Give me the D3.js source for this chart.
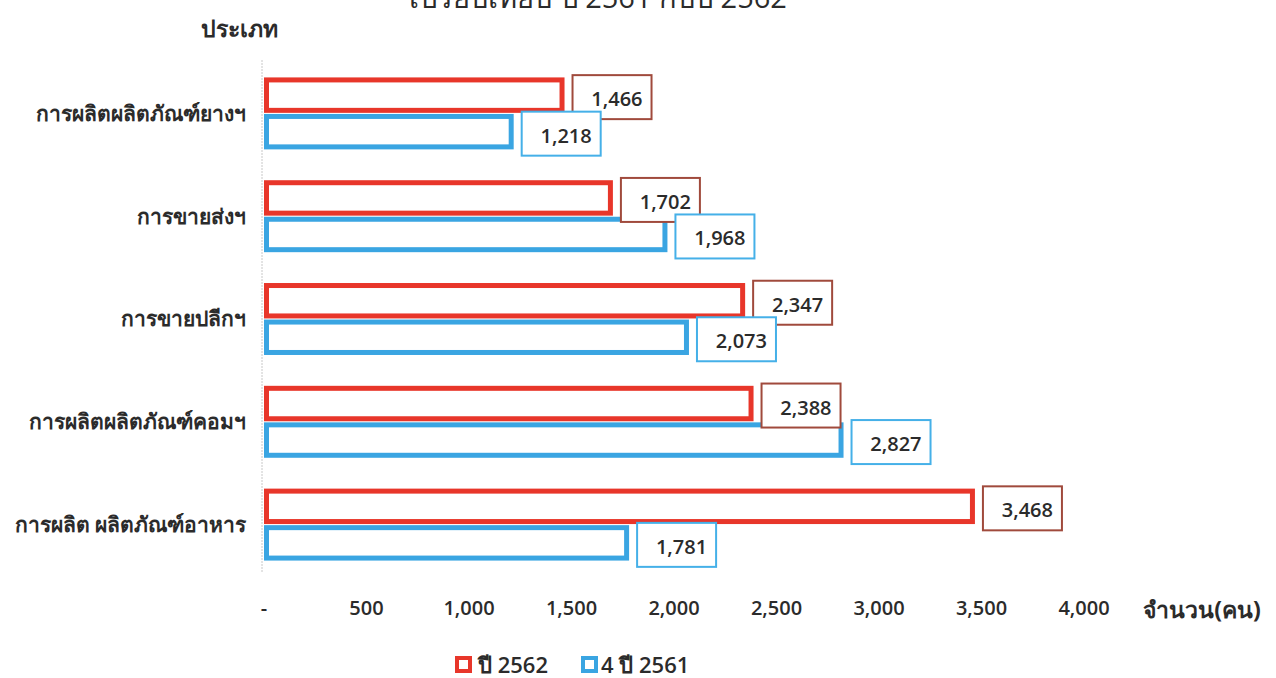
<!DOCTYPE html>
<html>
<head>
<meta charset="utf-8">
<script src="https://cdn.jsdelivr.net/npm/d3@7"></script>
<style>
  body { margin: 0; background: #fff; }
  text { font-family: "Open Sans", "Noto Sans", sans-serif; fill: #2b2b2b; }
</style>
</head>
<body>
<svg width="1276" height="678"></svg>
<script>
// data
const categories = [
  "การผลิตผลิตภัณฑ์ยางฯ",
  "การขายส่งฯ",
  "การขายปลีกฯ",
  "การผลิตผลิตภัณฑ์คอมฯ",
  "การผลิต ผลิตภัณฑ์อาหาร"
];
const seriesNames = ["ปี 2562", "4 ปี 2561"];
const values2562 = [1466, 1702, 2347, 2388, 3468];
const values2561 = [1218, 1968, 2073, 2827, 1781];
const tickValues = [0, 500, 1000, 1500, 2000, 2500, 3000, 3500, 4000];

const colors = ["#e8362a", "#3aa5e2"];
const boxColors = ["#a04a3c", "#45b0e8"];

const svg = d3.select("svg");

const x = d3.scaleLinear().domain([0, 4000]).range([264, 1084]);
const y = d3.scaleBand().domain(categories).range([62, 576])
  .paddingInner(0.3).paddingOuter(0.15);
const ySub = d3.scaleBand().domain([0, 1]).range([0, y.bandwidth()]).paddingInner(0.03);

// title (cut at the top of the picture, as in the source)
svg.append("text")
  .attr("x", 598).attr("y", 8)
  .attr("text-anchor", "middle")
  .style("font-size", "29px")
  .text("เปรียบเทียบ ปี 2561 กับปี 2562");

svg.append("text")
  .attr("x", 239).attr("y", 37)
  .attr("text-anchor", "middle")
  .style("font-size", "23px").style("font-weight", "bold")
  .text("ประเภท");

// vertical axis line
svg.append("line")
  .attr("x1", x(0) - 2).attr("x2", x(0) - 2)
  .attr("y1", 60).attr("y2", 572)
  .attr("stroke", "#c8c8c8").attr("stroke-dasharray", "2,1");

// category labels
svg.selectAll(".cat")
  .data(categories)
  .enter().append("text")
  .attr("class", "cat")
  .attr("x", 246)
  .attr("y", d => y(d) + y.bandwidth() / 2)
  .attr("dy", "0.35em")
  .attr("text-anchor", "end")
  .style("font-size", "21px").style("font-weight", "bold")
  .text(d => d);

const rows = [];
categories.forEach((c, i) => {
  rows.push({ cat: c, s: 0, v: values2562[i] });
  rows.push({ cat: c, s: 1, v: values2561[i] });
});

const sw = 5;
svg.selectAll(".bar")
  .data(rows)
  .enter().append("rect")
  .attr("class", "bar")
  .attr("x", x(0) + sw / 2)
  .attr("y", d => y(d.cat) + ySub(d.s) + sw / 2)
  .attr("width", d => x(d.v) - x(0) - sw)
  .attr("height", ySub.bandwidth() - sw)
  .attr("fill", "#fff")
  .attr("stroke", d => colors[d.s])
  .attr("stroke-width", sw);

// value boxes
const bw = 79, bh = 44;
const lab = svg.selectAll(".lab")
  .data(rows)
  .enter().append("g")
  .attr("class", "lab")
  .attr("transform", d => `translate(${x(d.v) + 8},${y(d.cat) + ySub(d.s) + ySub.bandwidth() / 2 - bh / 2 + 2})`);
lab.append("rect")
  .attr("width", bw).attr("height", bh)
  .attr("fill", "#fff")
  .attr("stroke", d => boxColors[d.s])
  .attr("stroke-width", 2);
lab.append("text")
  .attr("x", bw - 9).attr("y", bh / 2 + 2)
  .attr("dy", "0.35em")
  .attr("text-anchor", "end")
  .style("font-size", "20px").style("font-weight", 600)
  .text(d => d3.format(",")(d.v));

// x axis tick labels
svg.selectAll(".tick")
  .data(tickValues)
  .enter().append("text")
  .attr("class", "tick")
  .attr("x", d => x(d))
  .attr("y", 608)
  .attr("dy", "0.35em")
  .attr("text-anchor", "middle")
  .style("font-size", "20px").style("font-weight", 600)
  .text(d => d === 0 ? "-" : d3.format(",")(d));

svg.append("text")
  .attr("x", 1202).attr("y", 610)
  .attr("dy", "0.35em")
  .attr("text-anchor", "middle")
  .style("font-size", "23px").style("font-weight", "bold")
  .text("จำนวน(คน)");

// legend
const legX = [455, 581];
const leg = svg.selectAll(".leg")
  .data(seriesNames)
  .enter().append("g")
  .attr("class", "leg")
  .attr("transform", (d, i) => `translate(${legX[i]},656)`);
leg.append("rect")
  .attr("x", 2).attr("y", 2)
  .attr("width", 13).attr("height", 13)
  .attr("fill", "#fff")
  .attr("stroke", (d, i) => colors[i])
  .attr("stroke-width", 4);
leg.append("text")
  .attr("x", (d, i) => i === 0 ? 23 : 20)
  .attr("y", 9)
  .attr("dy", "0.35em")
  .style("font-size", "22px").style("font-weight", 600)
  .text(d => d);
</script>
</body>
</html>
